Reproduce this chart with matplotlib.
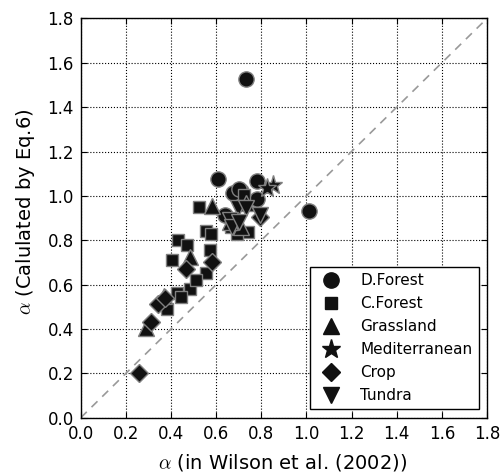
import matplotlib
matplotlib.use("Agg")
import matplotlib.pyplot as plt

plt.rcParams["mathtext.fontset"] = "cm"
plt.rcParams["font.family"] = ["DejaVu Sans"]

# Per-biome alpha values: x = Wilson et al. (2002), y = computed by Eq. 6
dforest_x = [0.730, 0.609, 1.012, 0.783, 0.712, 0.675, 0.779, 0.638, 0.700]
dforest_y = [1.527, 1.076, 0.934, 1.068, 1.022, 1.011, 0.985, 0.913, 1.030]

cforest_x = [0.522, 0.725, 0.554, 0.579, 0.431, 0.471, 0.402, 0.572, 0.742,
             0.690, 0.665, 0.557, 0.483, 0.510, 0.427, 0.446, 0.380]
cforest_y = [0.951, 1.004, 0.840, 0.829, 0.801, 0.777, 0.711, 0.756, 0.838,
             0.830, 0.861, 0.652, 0.580, 0.620, 0.563, 0.546, 0.490]

grass_x = [0.582, 0.288, 0.483, 0.712, 0.734, 0.660, 0.370]
grass_y = [0.955, 0.403, 0.726, 0.861, 0.966, 0.883, 0.550]

medit_x = [0.853, 0.823]
medit_y = [1.049, 1.034]

crop_x = [0.259, 0.313, 0.344, 0.372, 0.468, 0.582, 0.794]
crop_y = [0.200, 0.430, 0.513, 0.540, 0.669, 0.703, 0.906]

tundra_x = [0.697, 0.661, 0.794, 0.734, 0.668, 0.700]
tundra_y = [0.944, 0.891, 0.913, 0.944, 0.861, 0.880]

groups = [
    ("D.Forest", dforest_x, dforest_y, "o", 11),
    ("C.Forest", cforest_x, cforest_y, "s", 9),
    ("Grassland", grass_x, grass_y, "^", 11),
    ("Mediterranean", medit_x, medit_y, "*", 14),
    ("Crop", crop_x, crop_y, "D", 9.5),
    ("Tundra", tundra_x, tundra_y, "v", 11),
]

ticks = [0.0, 0.2, 0.4, 0.6, 0.8, 1.0, 1.2, 1.4, 1.6, 1.8]

fig = plt.figure(figsize=(5.02, 4.73), dpi=100, facecolor="white")
ax = fig.add_axes([0.161, 0.117, 0.809, 0.844])

ax.plot([0, 1.8], [0, 1.8], linestyle="--", color="#999999", linewidth=1.2,
        dashes=(5, 4), zorder=1)

for name, xs, ys, mk, ms in groups:
    ax.plot(xs, ys, linestyle="none", marker=mk, markersize=ms,
            markerfacecolor="#111111", markeredgecolor="#808080",
            markeredgewidth=1.0, label=name, zorder=3)

ax.set_xlim(0, 1.8)
ax.set_ylim(0, 1.8)
ax.set_xticks(ticks)
ax.set_yticks(ticks)
ax.set_xticklabels([f"{t:.1f}" for t in ticks])
ax.set_yticklabels([f"{t:.1f}" for t in ticks])
ax.grid(True, linestyle=":", color="black", linewidth=0.8)
ax.set_axisbelow(True)
ax.tick_params(direction="in", top=True, right=True, length=4,
               labelsize=12, pad=5)
for s in ax.spines.values():
    s.set_linewidth(1.0)

ax.set_xlabel(r"$\alpha$ (in Wilson et al. (2002))", fontsize=14, va="center")
ax.xaxis.set_label_coords(0.498, -0.112)
ax.set_ylabel(r"$\alpha$ (Calulated by Eq.6)", fontsize=14, va="center")
ax.yaxis.set_label_coords(-0.137, 0.515)

leg = ax.legend(loc="lower right", numpoints=1, fontsize=11, fancybox=False,
                framealpha=1, edgecolor="black", labelspacing=0.52,
                handletextpad=0.9, borderaxespad=0.55)
leg.get_frame().set_linewidth(1.0)
for h in leg.legend_handles:
    h.set_markeredgecolor("#111111")

fig.savefig("out.png", dpi=100, facecolor="white")
